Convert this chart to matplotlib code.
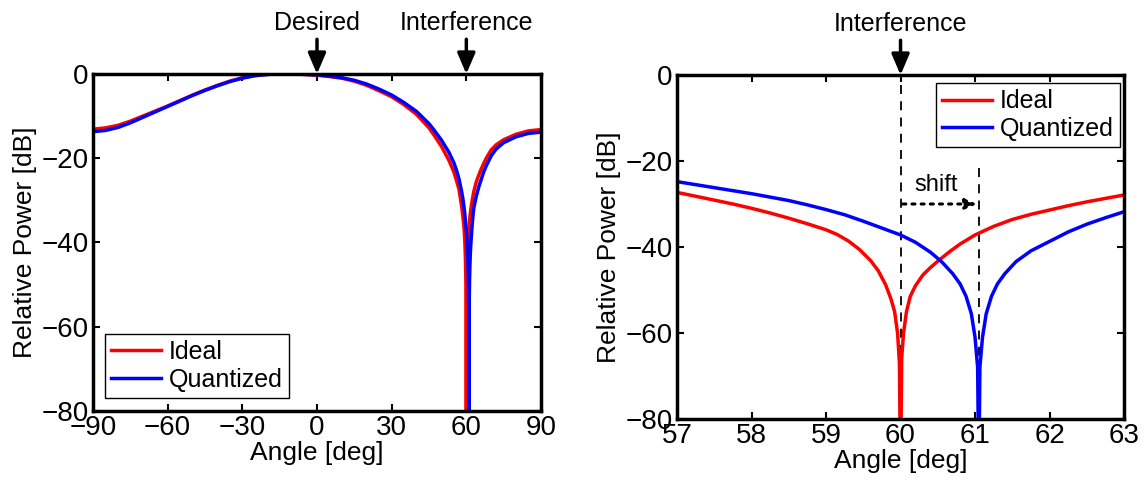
import numpy as np
import matplotlib
matplotlib.use("Agg")
import matplotlib.pyplot as plt

plt.rcParams['font.family'] = ['Liberation Sans', 'DejaVu Sans']

# beam pattern (deg, dB)
ang_ideal = [-90, -85, -80, -75, -70, -65, -60, -55, -50, -45, -40, -35, -30, -25,
             -20, -15, -10, -5, 0, 5, 10, 15, 20, 25, 30, 35, 40, 45, 47, 50, 53, 55, 56,
             57, 57.25, 57.5, 57.75, 58, 58.25, 58.5, 58.75, 59, 59.15, 59.3, 59.45,
             59.6, 59.7, 59.8, 59.87, 59.92, 59.96, 59.985, 60.0,
             60.015, 60.04, 60.08, 60.13, 60.2, 60.3, 60.4, 60.5, 60.65, 60.8,
             61, 61.25, 61.5, 61.75, 62, 62.25, 62.5, 62.75, 63,
             64, 65, 66, 67, 68, 70, 72, 75, 80, 85, 90]
pow_ideal = [-13.1, -12.8, -12.2, -11.2, -10.0, -8.8, -7.6, -6.3, -5.0, -3.8, -2.7, -1.7, -0.9, -0.4,
             -0.1, 0.0, 0.0, -0.1, -0.3, -0.6, -1.0, -1.7, -2.7, -4.0, -5.4, -7.3, -9.6, -12.8, -14.5, -17.2, -20.5, -23.3, -25.2,
             -27.3, -28.2, -29.1, -30.0, -31.0, -32.1, -33.3, -34.6, -36.0, -37.1, -38.6, -40.6,
             -43.2, -45.5, -48.8, -52.0, -55.0, -60.0, -67.0, -95.0,
             -66.0, -60.0, -55.0, -51.5, -49.0, -46.5, -44.8, -43.3, -41.2, -39.3,
             -37.2, -35.2, -33.6, -32.4, -31.4, -30.4, -29.5, -28.7, -27.9,
             -25.6, -24.0, -22.5, -21.2, -20.0, -18.0, -16.8, -15.6, -14.3, -13.5, -13.2]

ang_quant = [-90, -85, -80, -75, -70, -65, -60, -55, -50, -45, -40, -35, -30, -25,
             -20, -15, -10, -5, 0, 5, 10, 15, 20, 25, 30, 35, 40, 45, 47, 50, 53, 55, 56,
             57, 57.25, 57.5, 57.75, 58, 58.25, 58.5, 58.75, 59, 59.25, 59.5, 59.75,
             60, 60.2, 60.4, 60.55, 60.7, 60.8, 60.88, 60.95, 61.0, 61.035, 61.05,
             61.065, 61.1, 61.15, 61.22, 61.3, 61.4, 61.55, 61.75,
             62, 62.25, 62.5, 62.75, 63,
             64, 65, 66, 67, 68, 70, 72, 75, 80, 85, 90]
pow_quant = [-13.7, -13.4, -12.7, -11.6, -10.3, -9.0, -7.7, -6.4, -5.1, -3.9, -2.8, -1.8, -1.0, -0.4,
             -0.1, 0.0, 0.0, -0.1, -0.2, -0.5, -0.9, -1.5, -2.4, -3.6, -5.0, -6.8, -8.9, -11.8, -13.3, -15.7, -18.6, -21.1, -22.8,
             -24.8, -25.5, -26.2, -26.9, -27.6, -28.4, -29.2, -30.2, -31.3, -32.5, -34.0, -35.6,
             -37.2, -38.9, -41.2, -43.4, -46.2, -48.6, -51.5, -55.5, -61.0, -68.0, -95.0,
             -68.0, -61.0, -55.5, -51.5, -48.6, -46.2, -43.4, -40.9,
             -38.7, -36.5, -34.7, -33.2, -31.8,
             -29.0, -26.8, -25.0, -23.2, -21.8, -19.4, -17.8, -16.3, -14.9, -14.1, -13.8]

desired_deg = 0
interf_deg = 60
null_quant = 61.05

fig = plt.figure(figsize=(11.45, 4.88), dpi=100)
ax1 = fig.add_axes([0.0812, 0.1578, 0.3913, 0.6906])
ax2 = fig.add_axes([0.5913, 0.1414, 0.3904, 0.7049])

def style(ax):
    for s in ax.spines.values():
        s.set_linewidth(2.5)
    ax.tick_params(direction='in', top=True, right=True, width=1.5, length=5,
                   labelsize=20, pad=3)
    ax.set_ylim(-80, 0)
    ax.set_yticks([-80, -60, -40, -20, 0])
    ax.set_yticklabels(['\u221280', '\u221260', '\u221240', '\u221220', '0'])
    ax.set_xlabel('Angle [deg]', fontsize=19, labelpad=0)
    ax.set_ylabel('Relative Power [dB]', fontsize=19, labelpad=3)

def arrow(ax, x, label):
    ax.annotate(label, xy=(x, 0), xytext=(0, 28), textcoords='offset points',
                ha='center', va='bottom', fontsize=18, annotation_clip=False,
                arrowprops=dict(arrowstyle='-|>,head_width=0.3,head_length=0.7',
                                lw=2.5, color='k', shrinkA=1, shrinkB=0))

def legend(ax, loc, anchor):
    leg = ax.legend(loc=loc, bbox_to_anchor=anchor, borderaxespad=0, fontsize=18,
                    fancybox=False, framealpha=1, edgecolor='k', handlelength=2.0,
                    handletextpad=0.3, borderpad=0.25, labelspacing=0.15)
    leg.get_frame().set_linewidth(1.0)

# left panel
ax1.plot(ang_ideal, pow_ideal, color='#ff0000', lw=2.5, label='Ideal')
ax1.plot(ang_quant, pow_quant, color='#0000ff', lw=2.5, label='Quantized')
ax1.set_xlim(-90, 90)
ax1.set_xticks([-90, -60, -30, 0, 30, 60, 90])
ax1.set_xticklabels(['\u221290', '\u221260', '\u221230', '0', '30', '60', '90'])
style(ax1)
arrow(ax1, desired_deg, 'Desired')
arrow(ax1, interf_deg, 'Interference')
legend(ax1, 'lower left', (12 / 448, 13 / 337))

# right panel (zoom on the null)
ax2.plot(ang_ideal, pow_ideal, color='#ff0000', lw=2.5, label='Ideal')
ax2.plot(ang_quant, pow_quant, color='#0000ff', lw=2.5, label='Quantized')
ax2.set_xlim(57, 63)
ax2.set_xticks([57, 58, 59, 60, 61, 62, 63])
style(ax2)
arrow(ax2, interf_deg, 'Interference')
ax2.axvline(interf_deg, ls=(0, (5, 4)), color='k', lw=1.3, zorder=1)
ax2.plot([null_quant, null_quant], [-21.7, -80], ls=(0, (5, 4)), color='k', lw=1.3, zorder=1)
ax2.annotate('', xy=(null_quant - 0.02, -30), xytext=(interf_deg + 0.03, -30),
             arrowprops=dict(arrowstyle='-|>,head_width=0.3,head_length=0.7',
                             ls=(0, (1, 2)), lw=2.2, color='k', shrinkA=0, shrinkB=0))
ax2.text((interf_deg + null_quant) / 2 - 0.05, -25.6, 'shift', ha='center', va='center', fontsize=17)
legend(ax2, 'upper right', (1 - 4 / 447, 1 - 8 / 344))

fig.savefig('out.png', dpi=100)
